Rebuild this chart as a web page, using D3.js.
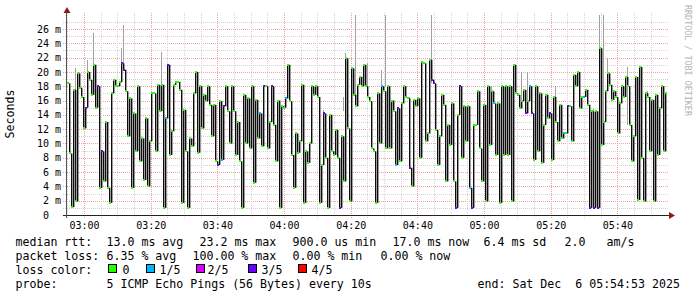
<!DOCTYPE html>
<html>
<head>
<meta charset="utf-8">
<script src="https://cdn.jsdelivr.net/npm/d3@7"></script>
<style>
body { margin: 0; background: #fff; }
text { font-family: "DejaVu Sans Mono", monospace; white-space: pre; }
</style>
</head>
<body>
<div id="chart"></div>
<script>
// median rtt in ms, one value every 36 s from 02:54:53 to 05:54:53
var rttMedian = [
	18.4, 8.6, 1.1, 17.5, 1.9, 19.8, 17.8, 16.5, 12.1, 15.0,
	20.0, 18.9, 16.8, 21.0, 15.0, 18.0, 3.8, 8.9, 4.7, 13.0,
	3.8, 1.7, 17.0, 18.9, 18.0, 18.0, 18.6, 21.2, 20.3, 17.3,
	11.0, 16.3, 3.8, 14.2, 8.9, 18.0, 7.5, 10.7, 4.9, 13.5,
	4.0, 10.3, 17.0, 17.0, 8.9, 18.2, 14.5, 18.2, 1.0, 13.5,
	21.0, 8.4, 11.7, 18.2, 18.6, 18.6, 17.5, 1.7, 14.7, 8.9,
	1.0, 10.7, 9.6, 17.0, 20.0, 8.7, 18.0, 12.1, 16.8, 15.9,
	18.0, 15.4, 11.0, 15.4, 7.5,
	7.0, 15.9, 7.7, 15.2, 18.0, 14.5, 10.0, 18.0, 14.5, 8.4,
	13.0, 7.5, 1.0, 16.8, 10.0, 16.3, 9.3, 18.0, 4.5, 16.1,
	10.7, 14.2, 9.6, 18.0, 18.0, 9.3, 13.0, 18.0, 12.6, 7.5,
	16.0, 1.0, 15.2, 15.0, 16.3, 21.0, 15.9, 8.4, 3.8, 11.4,
	8.7, 10.3, 18.2, 1.7, 8.9, 7.3, 10.0, 18.0, 16.8, 18.0,
	16.5, 1.7, 7.0, 14.2, 8.0, 1.0, 14.0, 8.9, 8.4, 11.9,
	8.0, 1.0, 11.0, 4.7, 21.9, 12.1, 1.9, 20.5, 16.8, 15.2,
	18.2, 19.3, 18.0, 21.0, 18.0,
	16.5, 15.9, 9.3, 8.9, 1.7, 17.0, 10.0, 18.0, 17.3, 9.3,
	18.0, 9.3, 16.0, 14.5, 7.0, 14.9, 7.5, 15.6, 18.0, 16.5,
	16.3, 6.6, 4.0, 16.1, 15.2, 16.3, 8.0, 21.4, 21.2, 10.3,
	11.4, 21.7, 18.9, 18.4, 11.9, 7.0, 11.0, 16.8, 15.4, 4.7,
	12.6, 9.8, 15.6, 4.7, 1.0, 14.0, 18.0, 8.0, 15.2, 10.3,
	15.2, 3.8, 1.0, 12.6, 12.6, 17.3, 9.3, 4.7, 15.4, 1.9,
	18.0, 9.8, 17.3, 15.6, 8.4, 15.6, 1.7, 18.0, 8.4, 18.0,
	8.4, 18.0, 1.9, 21.0, 17.0,
	16.8, 14.9, 15.9, 17.5, 14.2, 15.9, 18.0, 14.2, 7.7, 18.0,
	8.9, 17.0, 7.3, 12.6, 16.8, 13.5, 14.2, 7.7, 16.5, 13.0,
	10.3, 15.4, 10.7, 11.4, 11.4, 15.2, 15.2, 10.3, 19.6, 18.0,
	20.0, 14.9, 16.5, 16.5, 17.5, 15.4, 1.0, 14.5, 1.0, 14.5,
	1.0, 23.3, 9.8, 13.0, 17.3, 19.8, 18.2, 16.1, 17.3, 16.5,
	11.4, 15.6, 18.0, 16.5, 19.3, 18.0, 12.6, 7.5, 11.0, 19.3,
	2.1, 20.7, 8.0, 1.9, 17.0, 16.5, 8.9, 16.1, 1.9, 16.8,
	8.4, 14.9, 18.0, 8.9, 17.0
];
// smoke (spread of the 5 pings): [sample, low ms, high ms]
var smoke = [
	[4,17.5,20.5],[10,19.5,21.7],[13,19,25.4],[27,18.4,23.3],[28,20.5,26.6],[47,18.2,22.8],
	[84,12.6,13.1],[95,13,14.5],[121,8.7,10],[128,14.2,14.7],[138,14.5,16.5],[139,21.7,22.6],[144,15.4,28],
	[150,18,21.2],[157,18,20.3],[159,18,28],[171,6.6,16.5],[182,18.4,28],[198,8,10.3],[212,17.3,18],
	[227,16,20],[230,15.9,20],[244,16.5,18],[263,14.5,14.8],[266,23.3,28],[268,10.5,28],[270,18.2,21.9],
	[280,12.6,20.7],[290,16.5,17.3]
];
// samples with packet loss: [sample, lost pings out of 5]
var lossMarks = [
	[9,3],[15,3],[17,3],[27,3],[28,3],[49,1],[50,3],[75,3],[77,1],[78,3],[96,1],[98,3],[102,3],
	[109,1],[128,3],[136,3],[157,1],[164,1],[165,3],[171,3],[182,3],[183,3],[194,3],[196,3],
	[201,1],[202,3],[213,1],[229,3],[231,1],[232,3],[241,3],[248,1],[250,3],[258,1],[261,3],
	[263,3],[265,3]
];
var lossColors	= ["#26ff00", "#00b8ff", "#dd00ff", "#6a00ff", "#ff0000"];
var lossLabels	= ["0", "1/5", "2/5", "3/5", "4/5"];
var yTicks	= [0, 2, 4, 6, 8, 10, 12, 14, 16, 18, 20, 22, 24, 26];

var legendRtt	= [["median rtt:",16],["13.0 ms avg",107],["23.2 ms max",200],["900.0 us min",293],
		   ["17.0 ms now",393],["6.4 ms sd",484],["2.0",565],["am/s",607]];
var legendLoss	= [["packet loss:",16],["6.35 % avg",107],["100.00 % max",193],["0.00 % min",293],["0.00 % now",381]];
var legendProbe	= [["probe:",16],["5 ICMP Echo Pings (56 Bytes) every 10s",107],["end: Sat Dec  6 05:54:53 2025",478]];

var	W = 697, H = 297,
	pLeft = 67, pRight = 667, pTop = 15, pBottom = 215,
	tStart = new Date(2025, 11, 6, 2, 54, 53),
	tEnd = new Date(2025, 11, 6, 5, 54, 53),
	stepSec = 36;

var	x = d3.scaleTime().domain([tStart, tEnd]).range([pLeft, pRight]),
	y = d3.scaleLinear().domain([0, 26]).range([pBottom, 29]);
function tAt(i) { return new Date(+tStart + i * stepSec * 1000); }

var svg = d3.select("#chart").append("svg")
	.attr("width", W).attr("height", H)
	.attr("shape-rendering", "crispEdges");
svg.append("rect").attr("width", W).attr("height", H).attr("fill", "#fff");

svg.append("clipPath").attr("id", "plotclip")
	.append("rect").attr("x", pLeft).attr("y", pTop).attr("width", pRight - pLeft + 1).attr("height", pBottom - pTop);

// grid
var grid = svg.append("g").attr("stroke-dasharray", "1,1").attr("stroke-width", 1);
d3.range(1, 28).forEach(function(v) {
	grid.append("line")
		.attr("x1", 63).attr("x2", pRight + 2)
		.attr("y1", Math.round(y(v)) + 0.5).attr("y2", Math.round(y(v)) + 0.5)
		.attr("stroke", v % 2 ? "#d4d4d4" : "#eba3a3");
});
x.ticks(d3.timeMinute.every(5)).forEach(function(t) {
	var px = Math.round(x(t)) + 0.5;
	grid.append("line")
		.attr("x1", px).attr("x2", px).attr("y1", 13).attr("y2", pBottom + 3)
		.attr("stroke", t.getMinutes() % 20 ? "#d4d4d4" : "#eba3a3");
});

var plot = svg.append("g").attr("clip-path", "url(#plotclip)");

// smoke
plot.selectAll("rect.smoke").data(smoke).join("rect").attr("class", "smoke")
	.attr("x", function(d) { return x(tAt(d[0])); }).attr("width", 1)
	.attr("y", function(d) { return y(d[2]); })
	.attr("height", function(d) { return y(d[1]) - y(d[2]); })
	.attr("fill", "#a0a0a0");

// median jumps
plot.selectAll("rect.jump").data(rttMedian).join("rect").attr("class", "jump")
	.attr("shape-rendering", "auto")
	.attr("x", function(d, i) { return x(tAt(i)); }).attr("width", 1.4)
	.attr("y", function(d, i) { return y(Math.max(d, i ? rttMedian[i - 1] : d)); })
	.attr("height", function(d, i) { return Math.abs(y(d) - y(i ? rttMedian[i - 1] : d)); })
	.attr("fill", "#0c0c0c");

// median colored by loss
var lossOf = {};
lossMarks.forEach(function(m) { lossOf[m[0]] = m[1]; });
plot.selectAll("rect.med").data(rttMedian).join("rect").attr("class", "med")
	.attr("x", function(d, i) { return x(tAt(i)); }).attr("width", 2)
	.attr("y", function(d) { return Math.round(y(d)) - 1; }).attr("height", 2)
	.attr("fill", function(d, i) { return lossColors[lossOf[i] || 0]; });

// axes
svg.append("line").attr("x1", 63).attr("x2", pRight + 3).attr("y1", pBottom + 0.5).attr("y2", pBottom + 0.5)
	.attr("stroke", "#222");
svg.append("line").attr("x1", 66.5).attr("x2", 66.5).attr("y1", pBottom + 3).attr("y2", 11)
	.attr("stroke", "#555");
svg.append("path").attr("d", "M67,7L63.5,13L70.5,13Z").attr("fill", "#8b1a1a").attr("shape-rendering", "auto");
svg.append("path").attr("d", "M675,215.5L669,212L669,219Z").attr("fill", "#8b1a1a").attr("shape-rendering", "auto");

// tick labels
var lab = svg.append("g").attr("font-size", "10px").attr("fill", "#000");
yTicks.forEach(function(v) {
	lab.append("text").attr("x", 61).attr("y", y(v) + 3.6).attr("text-anchor", "end")
		.text(v ? v + " m" : "0  ");
});
x.ticks(d3.timeMinute.every(20)).forEach(function(t) {
	lab.append("text").attr("x", x(t) + 0.5).attr("y", 229).attr("text-anchor", "middle")
		.text(d3.timeFormat("%H:%M")(t));
});

svg.append("text").attr("transform", "translate(14,114) rotate(-90)")
	.attr("text-anchor", "middle").attr("font-size", "11.6px").text("Seconds");
svg.append("text").attr("transform", "translate(685,5) rotate(90)")
	.attr("font-size", "8.4px").attr("fill", "#b4b4b4").text("RRDTOOL / TOBI OETIKER");

// legend
var leg = svg.append("g").attr("font-size", "11.6px").attr("fill", "#000");
function legendLine(items, yy) {
	items.forEach(function(d) { leg.append("text").attr("x", d[1] - 0.5).attr("y", yy).text(d[0]); });
}
legendLine(legendRtt, 245.5);
legendLine(legendLoss, 259.5);
legendLine([["loss color:", 16]], 273.5);
legendLine(legendProbe, 287.5);
var boxX = [108, 146, 195.5, 247.5, 297.5], labX = [123, 160, 208, 262, 312];
lossLabels.forEach(function(l, i) {
	leg.append("rect").attr("x", boxX[i] + 0.5).attr("y", 264.5).attr("width", 8).attr("height", 8)
		.attr("fill", lossColors[i]).attr("stroke", "#000");
	leg.append("text").attr("x", labX[i] - 0.5).attr("y", 273.5).text(l);
});
</script>
</body>
</html>
